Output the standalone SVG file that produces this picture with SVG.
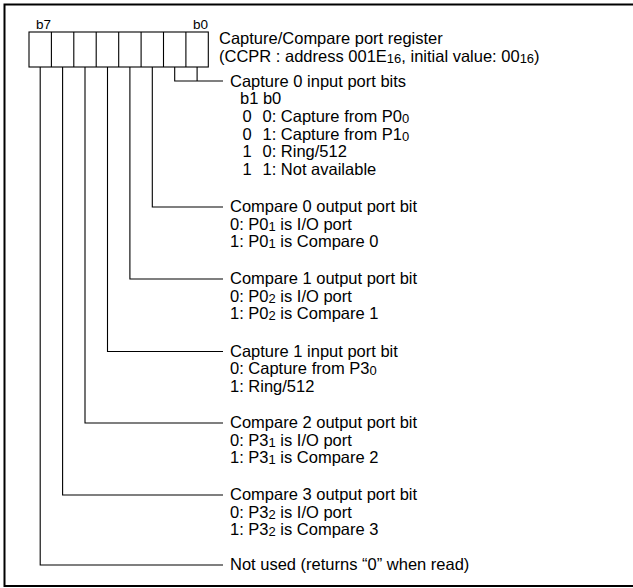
<svg xmlns="http://www.w3.org/2000/svg" width="633" height="588" viewBox="0 0 633 588">
<style>
text{font-family:"Liberation Sans",Arial,sans-serif;font-size:16.5px;fill:#000}
.sm{font-size:13.5px}
.sub{font-size:13px}
.ln{stroke:#000;stroke-width:1.1;fill:none}
.cell{stroke:#000;stroke-width:1.1;fill:#fff}
</style>
<rect x="4.5" y="4.5" width="640" height="581.5" fill="#fff" stroke="#000" stroke-width="2"/>
<g id="register">
<text class="sm" x="36" y="29">b7</text>
<text class="sm" x="208" y="29" text-anchor="end">b0</text>
<rect class="cell" x="29" y="32" width="179.3" height="35"/>
<path class="ln" d="M51.4,32V67M73.8,32V67M96.2,32V67M118.7,32V67M141.1,32V67M163.5,32V67M185.9,32V67"/>
<text x="219" y="44">Capture/Compare port register</text>
<text x="219" y="62">(CCPR : address 001E<tspan class="sub" dy="1">16</tspan><tspan dy="-1">, initial value: 00</tspan><tspan class="sub" dy="1">16</tspan><tspan dy="-1">)</tspan></text>
</g>
<g id="connectors" class="ln">
<path d="M174.7,67V81H223M197.1,67V81"/>
<path d="M152.3,67V207H223"/>
<path d="M129.9,67V279H223"/>
<path d="M107.5,67V351.5H223"/>
<path d="M85,67V423H223"/>
<path d="M62.6,67V495H223"/>
<path d="M40.2,67V565H223"/>
</g>
<g id="capture0">
<text x="230" y="86.5">Capture 0 input port bits</text>
<text x="240" y="104">b1 b0</text>
<text y="122"><tspan x="242.5">0</tspan><tspan x="262.5">0: Capture from P0</tspan><tspan class="sub" dy="1">0</tspan></text>
<text y="139.5"><tspan x="242.5">0</tspan><tspan x="262.5">1: Capture from P1</tspan><tspan class="sub" dy="1">0</tspan></text>
<text y="157"><tspan x="242.5">1</tspan><tspan x="262.5">0: Ring/512</tspan></text>
<text y="174.5"><tspan x="242.5">1</tspan><tspan x="262.5">1: Not available</tspan></text>
</g>
<g id="compare0">
<text x="230" y="212">Compare 0 output port bit</text>
<text x="230" y="229.5">0: P0<tspan class="sub" dy="1">1</tspan><tspan dy="-1"> is I/O port</tspan></text>
<text x="230" y="247">1: P0<tspan class="sub" dy="1">1</tspan><tspan dy="-1"> is Compare 0</tspan></text>
</g>
<g id="compare1">
<text x="230" y="284">Compare 1 output port bit</text>
<text x="230" y="301.5">0: P0<tspan class="sub" dy="1">2</tspan><tspan dy="-1"> is I/O port</tspan></text>
<text x="230" y="319">1: P0<tspan class="sub" dy="1">2</tspan><tspan dy="-1"> is Compare 1</tspan></text>
</g>
<g id="capture1">
<text x="230" y="356.5">Capture 1 input port bit</text>
<text x="230" y="374">0: Capture from P3<tspan class="sub" dy="1">0</tspan></text>
<text x="230" y="391.5">1: Ring/512</text>
</g>
<g id="compare2">
<text x="230" y="428">Compare 2 output port bit</text>
<text x="230" y="445.5">0: P3<tspan class="sub" dy="1">1</tspan><tspan dy="-1"> is I/O port</tspan></text>
<text x="230" y="463">1: P3<tspan class="sub" dy="1">1</tspan><tspan dy="-1"> is Compare 2</tspan></text>
</g>
<g id="compare3">
<text x="230" y="500">Compare 3 output port bit</text>
<text x="230" y="517.5">0: P3<tspan class="sub" dy="1">2</tspan><tspan dy="-1"> is I/O port</tspan></text>
<text x="230" y="535">1: P3<tspan class="sub" dy="1">2</tspan><tspan dy="-1"> is Compare 3</tspan></text>
</g>
<g id="notused">
<text x="230" y="570">Not used (returns “0” when read)</text>
</g>
</svg>
